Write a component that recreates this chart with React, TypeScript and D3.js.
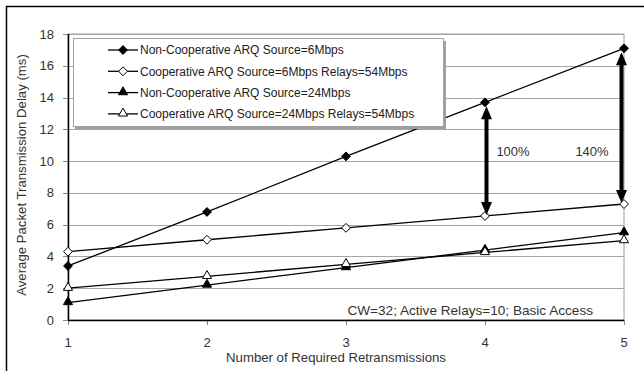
import React from 'react';
import * as d3 from 'd3';

// retransmissions on the x axis
const retransmissions = [1, 2, 3, 4, 5];
const yTicks = [0, 2, 4, 6, 8, 10, 12, 14, 16, 18];

// delay in ms
const nonCoop6 = [3.4, 6.8, 10.3, 13.7, 17.1];
const coop6 = [4.3, 5.05, 5.8, 6.55, 7.3];
const nonCoop24 = [1.1, 2.2, 3.3, 4.4, 5.5];
const coop24 = [2.0, 2.75, 3.5, 4.25, 5.0];

const seriesNames = [
  'Non-Cooperative ARQ Source=6Mbps',
  'Cooperative ARQ Source=6Mbps Relays=54Mbps',
  'Non-Cooperative ARQ Source=24Mbps',
  'Cooperative ARQ Source=24Mbps Relays=54Mbps',
];
const seriesValues = [nonCoop6, coop6, nonCoop24, coop24];
const seriesMarkers = ['diamond', 'diamond', 'triangle', 'triangle'];
const seriesFilled = [true, false, true, false];

// gap arrows between the 6Mbps curves
const gapAt = [4, 5];
const gapLabels = ['100%', '140%'];

const FONT = '"Liberation Sans", Arial, sans-serif';

const W = 644;
const H = 371;
const left = 68, right = 624, top = 34, bottom = 320;

const x = d3.scaleLinear().domain([1, 5]).range([left, right]);
const y = d3.scaleLinear().domain([0, 18]).range([bottom, top]);

const line = d3.line<number>()
  .x((_, i) => x(retransmissions[i]))
  .y(v => y(v));

const markerPath = (kind: string, size: number) =>
  d3.symbol()
    .type(kind === 'diamond' ? d3.symbolDiamond2 : d3.symbolTriangle2)
    .size(size)() as string;

const Marker = ({kind, filled, cx, cy}: {kind: string; filled: boolean; cx: number; cy: number}) => (
  <path
    d={markerPath(kind, kind === 'diamond' ? 50 : 60)}
    transform={`translate(${cx},${cy + (kind === 'triangle' ? -0.5 : 0)})`}
    fill={filled ? '#000' : '#fff'}
    stroke="#000"
    strokeWidth={1}
  />
);

const Arrow = ({ax, y1, y2}: {ax: number; y1: number; y2: number}) => {
  const hw = 5.5, hl = 13;
  return (
    <g>
      <line x1={ax} x2={ax} y1={y1 + hl - 1} y2={y2 - hl + 1} stroke="#000" strokeWidth={4} />
      <path d={`M${ax},${y1} L${ax - hw},${y1 + hl} L${ax + hw},${y1 + hl} Z`} fill="#000" />
      <path d={`M${ax},${y2} L${ax - hw},${y2 - hl} L${ax + hw},${y2 - hl} Z`} fill="#000" />
    </g>
  );
};

export default function App() {
  return (
    <svg width={W} height={H} style={{display: 'block', position: 'absolute', left: 0, top: 0}} fontFamily={FONT}>
      <rect x={0} y={0} width={W} height={H} fill="#fff" />
      <rect x={6.5} y={6.5} width={W + 20} height={H + 20} fill="none" stroke="#000" strokeWidth={1.5} />

      {/* plot area */}
      <rect x={left} y={top} width={right - left} height={bottom - top} fill="#fff" stroke="#a0a0a0" />
      {yTicks.map(t => (
        <g key={t}>
          <line x1={left} x2={right} y1={Math.round(y(t)) + 0.5} y2={Math.round(y(t)) + 0.5} stroke="#a6a6a6" />
          <line x1={left - 5} x2={left} y1={Math.round(y(t)) + 0.5} y2={Math.round(y(t)) + 0.5} stroke="#888" />
          <text x={54} y={y(t)} dy="0.35em" textAnchor="end" fontSize={13} fill="#333">{t}</text>
        </g>
      ))}
      {retransmissions.map(r => (
        <g key={r}>
          <line x1={Math.round(x(r)) + 0.5} x2={Math.round(x(r)) + 0.5} y1={bottom} y2={bottom + 5} stroke="#888" />
          <text x={x(r)} y={342} dy="0.35em" textAnchor="middle" fontSize={13} fill="#333">{r}</text>
        </g>
      ))}
      <line x1={left + 0.5} x2={left + 0.5} y1={top} y2={bottom} stroke="#000" strokeWidth={1.5} />
      <line x1={left} x2={right} y1={bottom + 0.5} y2={bottom + 0.5} stroke="#000" strokeWidth={1.5} />

      <text x={336} y={357} dy="0.35em" textAnchor="middle" fontSize={13.2} fill="#333">Number of Required Retransmissions</text>
      <text transform={`translate(21,${175}) rotate(-90)`} dy="0.35em" textAnchor="middle" fontSize={13.2} fill="#333">
        Average Packet Transmission Delay (ms)
      </text>

      {/* series */}
      {seriesValues.map((vals, s) => (
        <path key={s} d={line(vals) as string} fill="none" stroke="#000" strokeWidth={1.3} />
      ))}
      {seriesValues.map((vals, s) =>
        vals.map((v, i) => (
          <Marker key={`${s}-${i}`} kind={seriesMarkers[s]} filled={seriesFilled[s]} cx={x(retransmissions[i])} cy={y(v)} />
        ))
      )}

      {/* gap arrows */}
      {gapAt.map((g, k) => {
        const i = retransmissions.indexOf(g);
        const ax = x(g) + (k === 0 ? 1.5 : -2.5);
        return <Arrow key={g} ax={ax} y1={y(nonCoop6[i]) + 4} y2={y(coop6[i]) - 1} />;
      })}
      {gapLabels.map((l, k) => (
        <text key={l} x={x(gapAt[k]) + (k === 0 ? 28 : -32)} y={151} dy="0.35em" textAnchor="middle" fontSize={13} fill="#333">{l}</text>
      ))}

      <text x={593} y={310} dy="0.35em" textAnchor="end" fontSize={13.6} fill="#333">CW=32; Active Relays=10; Basic Access</text>

      {/* legend */}
      <rect x={75} y={41} width={371} height={88} fill="#a0a0a0" />
      <rect x={73.5} y={38.5} width={370} height={88} fill="#fff" stroke="#a0a0a0" />
      {seriesNames.map((n, s) => {
        const ly = 50 + s * 21.3;
        return (
          <g key={n}>
            <line x1={108} x2={138} y1={ly} y2={ly} stroke="#000" strokeWidth={1.3} />
            <Marker kind={seriesMarkers[s]} filled={seriesFilled[s]} cx={123} cy={ly} />
            <text x={140} y={ly} dy="0.35em" fontSize={12} fill="#222">{n}</text>
          </g>
        );
      })}
    </svg>
  );
}
